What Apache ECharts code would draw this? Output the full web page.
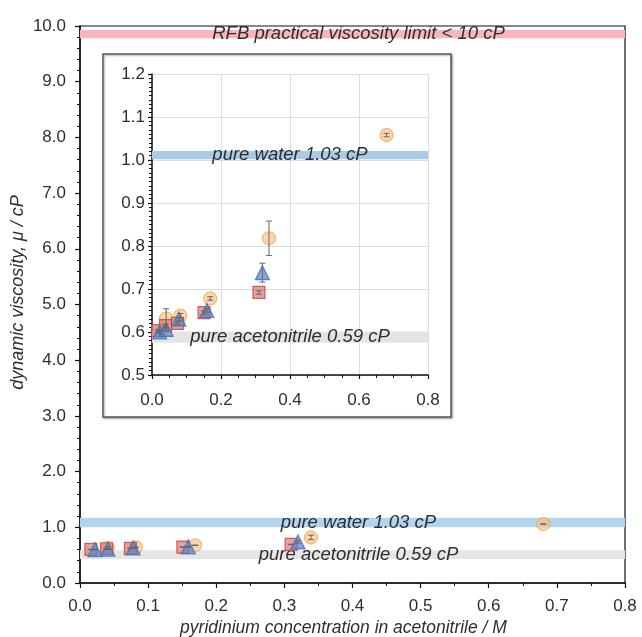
<!DOCTYPE html>
<html>
<head>
<meta charset="utf-8">
<script src="https://cdn.jsdelivr.net/npm/echarts@6/dist/echarts.min.js"></script>
<style>
  html, body { margin: 0; padding: 0; background: #fff; }
  #chart { width: 642px; height: 637px; }
</style>
</head>
<body>
<div id="chart"></div>
<script>
// Pyridinium salts in acetonitrile: concentration (M) vs dynamic viscosity (cP)
const orangeConc = [0.041, 0.082, 0.169, 0.339, 0.680];
const orangeVisc = [0.632, 0.638, 0.678, 0.818, 1.058];
const orangeErr  = [0.022, 0.005, 0.004, 0.040, 0.004];

const redConc = [0.016, 0.039, 0.074, 0.151, 0.310];
const redVisc = [0.603, 0.615, 0.620, 0.645, 0.692];
const redErr  = [0.003, 0.003, 0.003, 0.004, 0.004];

const blueConc = [0.022, 0.041, 0.078, 0.159, 0.320];
const blueVisc = [0.600, 0.606, 0.630, 0.650, 0.738];
const blueErr  = [0.003, 0.003, 0.004, 0.004, 0.022];

// reference bands [low, high] in cP
const limitBand = [9.78, 9.93];
const waterBandMain = [1.00, 1.17];
const acnBandMain = [0.43, 0.59];
const waterBandInset = [1.002, 1.021];
const acnBandInset = [0.575, 0.601];

const limitText = 'RFB practical viscosity limit < 10 cP';
const waterText = 'pure water 1.03 cP';
const acnText = 'pure acetonitrile 0.59 cP';
const xTitle = 'pyridinium concentration in acetonitrile / M';
const yTitle = 'dynamic viscosity, \u03bc / cP';

const FONT = 'Liberation Sans, Arial, sans-serif';
const TEXT = '#2e2e2e';

const pts = (xs, ys) => xs.map((x, i) => [x, ys[i]]);
const errs = (xs, ys, es) => xs.map((x, i) => [x, ys[i] - es[i], ys[i] + es[i]]);

const styles = {
  orange: { color: 'rgba(248,196,140,0.85)', borderColor: '#F4A952', borderWidth: 1.2 },
  red:    { color: 'rgba(214,120,112,0.85)', borderColor: '#C9403A', borderWidth: 1.2 },
  blue:   { color: 'rgba(92,132,196,0.9)',   borderColor: '#3F6DC0', borderWidth: 1.2 }
};

function errorRender(params, api) {
  const x = api.value(0);
  const top = api.coord([x, api.value(2)]);
  const bot = api.coord([x, api.value(1)]);
  const w = 3;
  const st = { stroke: '#666', lineWidth: 1 };
  return {
    type: 'group',
    children: [
      { type: 'line', shape: { x1: top[0], y1: top[1], x2: bot[0], y2: bot[1] }, style: st },
      { type: 'line', shape: { x1: top[0] - w, y1: top[1], x2: top[0] + w, y2: top[1] }, style: st },
      { type: 'line', shape: { x1: bot[0] - w, y1: bot[1], x2: bot[0] + w, y2: bot[1] }, style: st }
    ]
  };
}

function band(range, color, text, offset) {
  return [{
    xAxis: 0, yAxis: range[0],
    itemStyle: { color: color },
    label: {
      show: true, position: 'inside', formatter: text, offset: offset || [0, 0],
      color: TEXT, fontStyle: 'italic', fontSize: 18.5, fontFamily: FONT
    }
  }, { xAxis: 0.8, yAxis: range[1] }];
}

function scatterSet(gi, withBands) {
  const out = [];
  const sets = [
    ['orange', 'circle', 13, orangeConc, orangeVisc, orangeErr],
    ['red', 'rect', 12, redConc, redVisc, redErr],
    ['blue', 'triangle', 14, blueConc, blueVisc, blueErr]
  ];
  sets.forEach((s, k) => {
    const ser = {
      type: 'scatter', xAxisIndex: gi, yAxisIndex: gi,
      symbol: s[1], symbolSize: s[2], itemStyle: styles[s[0]],
      data: pts(s[3], s[4]), z: 3 + k, silent: true
    };
    if (k === 0 && withBands) {
      ser.markArea = { silent: true, data: withBands };
    }
    out.push(ser);
    out.push({
      type: 'custom', xAxisIndex: gi, yAxisIndex: gi, renderItem: errorRender,
      data: errs(s[3], s[4], s[5]), z: 10, silent: true
    });
  });
  return out;
}

const axisLabel = (margin) => ({
  color: TEXT, fontSize: 17, fontFamily: FONT, margin: margin,
  formatter: v => v.toFixed(1)
});

const chart = echarts.init(document.getElementById('chart'), null, { renderer: 'canvas' });
chart.setOption({
  animation: false,
  backgroundColor: '#fff',
  graphic: [{
    type: 'rect', z: -10, silent: true,
    shape: { x: 103, y: 54, width: 348, height: 363 },
    style: { fill: '#fff', stroke: '#5a5a5a', lineWidth: 1.5,
             shadowBlur: 2, shadowColor: 'rgba(0,0,0,0.35)', shadowOffsetX: 1, shadowOffsetY: 1 }
  }],
  grid: [
    { left: 80, right: 17, top: 26, bottom: 54, containLabel: false, outerBoundsMode: 'none',
      show: true, borderColor: '#111', borderWidth: 1.2, backgroundColor: 'transparent' },
    { left: 152, top: 74, width: 276, height: 301, containLabel: false, outerBoundsMode: 'none' }
  ],
  xAxis: [
    {
      gridIndex: 0, type: 'value', min: 0, max: 0.8, interval: 0.1,
      name: xTitle, nameLocation: 'middle', nameGap: 36, nameMoveOverlap: false,
      nameTextStyle: { color: TEXT, fontSize: 17.5, fontStyle: 'italic', fontFamily: FONT, padding: [0, 18, 0, 0] },
      axisLine: { onZero: false, lineStyle: { color: '#111', width: 1.5 } },
      axisTick: { length: 5, lineStyle: { color: '#111', width: 1.2 } },
      minorTick: { show: true, splitNumber: 2, length: 3, lineStyle: { color: '#111', width: 1 } },
      splitLine: { show: false },
      axisLabel: axisLabel(15)
    },
    {
      gridIndex: 1, type: 'value', min: 0, max: 0.8, interval: 0.2,
      axisLine: { onZero: false, lineStyle: { color: '#111', width: 1.5 } },
      axisTick: { length: 4, lineStyle: { color: '#111', width: 1.2 } },
      minorTick: { show: true, splitNumber: 4, length: 3, lineStyle: { color: '#111', width: 1 } },
      splitLine: { show: true, lineStyle: { color: '#dcdcdc', width: 1 } },
      axisLabel: axisLabel(17)
    }
  ],
  yAxis: [
    {
      gridIndex: 0, type: 'value', min: 0, max: 10, interval: 1,
      name: yTitle, nameLocation: 'middle', nameGap: 53, nameMoveOverlap: false,
      nameTextStyle: { color: TEXT, fontSize: 18, fontStyle: 'italic', fontFamily: FONT, padding: [0, 0, 0, 24] },
      axisLine: { onZero: false, lineStyle: { color: '#111', width: 1.5 } },
      axisTick: { length: 5, lineStyle: { color: '#111', width: 1.2 } },
      minorTick: { show: true, splitNumber: 5, length: 3, lineStyle: { color: '#111', width: 1 } },
      splitLine: { show: false },
      axisLabel: axisLabel(14)
    },
    {
      gridIndex: 1, type: 'value', min: 0.5, max: 1.2, interval: 0.1,
      axisLine: { onZero: false, lineStyle: { color: '#111', width: 1.5 } },
      axisTick: { length: 4, lineStyle: { color: '#111', width: 1.2 } },
      minorTick: { show: true, splitNumber: 10, length: 3, lineStyle: { color: '#111', width: 1 } },
      splitLine: { show: true, lineStyle: { color: '#dcdcdc', width: 1 } },
      axisLabel: axisLabel(7)
    }
  ],
  series: [
    ...scatterSet(0, [
      band(limitBand, '#F9B5BC', limitText, [6, 0]),
      band(waterBandMain, '#B3D4EE', waterText, [6, 0]),
      band(acnBandMain, '#E6E6E6', acnText, [6, 0])
    ]),
    ...scatterSet(1, [
      band(waterBandInset, '#A8CBEA', waterText, [0, 0]),
      band(acnBandInset, '#E4E4E4', acnText, [0, 0])
    ])
  ]
});
</script>
</body>
</html>
